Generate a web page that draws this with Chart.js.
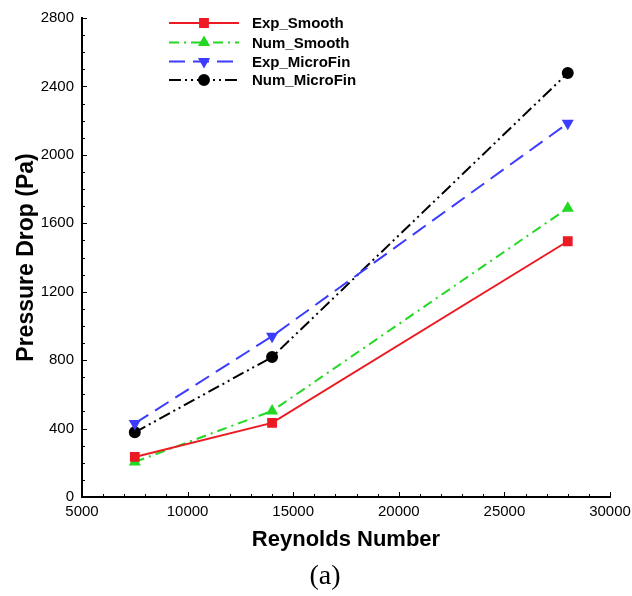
<!DOCTYPE html>
<html>
<head>
  <meta charset="UTF-8">
  <title>Pressure Drop vs Reynolds Number</title>
  <script src="https://cdn.jsdelivr.net/npm/chart.js"></script>
  <style>
    html, body { margin: 0; padding: 0; background: #fff; }
    #wrap { width: 632px; height: 596px; }
  </style>
</head>
<body>
  <div id="wrap"><canvas id="pdChart" width="632" height="596"></canvas></div>

  <script>
    // values
    const reynolds = [7500, 14000, 28000];
    const expSmooth = [234, 433, 1495];
    const numSmooth = [205, 503, 1688];
    const expMicroFin = [430, 940, 2185];
    const numMicroFin = [378, 818, 2478];

    const xTicks = [5000, 10000, 15000, 20000, 25000, 30000];
    const yTicks = [0, 400, 800, 1200, 1600, 2000, 2400, 2800];
    const panelLabel = '(a)';

    const toPoints = vals => reynolds.map((r, i) => ({ x: r, y: vals[i] }));

    // legend drawn inside the plot, line sample + marker + text
    const insideLegend = {
      id: 'insideLegend',
      afterDraw(chart) {
        const ctx = chart.ctx;
        const x0 = 169, x1 = 239, tx = 252;
        const rows = [23, 42.5, 61.5, 80];
        chart.data.datasets.forEach((ds, i) => {
          const y = rows[i];
          ctx.save();
          ctx.strokeStyle = ds.borderColor;
          ctx.lineWidth = ds.borderWidth;
          ctx.setLineDash(ds.borderDash || []);
          ctx.beginPath();
          ctx.moveTo(x0, y);
          ctx.lineTo(x1, y);
          ctx.stroke();
          ctx.setLineDash([]);
          ctx.fillStyle = ds.backgroundColor;
          ctx.strokeStyle = ds.borderColor;
          Chart.helpers.drawPoint(ctx, {
            pointStyle: ds.pointStyle,
            radius: ds.pointRadius,
            rotation: ds.pointRotation || 0,
            borderWidth: 1
          }, (x0 + x1) / 2, y);
          ctx.fillStyle = '#000';
          ctx.font = 'bold 15px "Liberation Sans", Arial, sans-serif';
          ctx.textBaseline = 'middle';
          ctx.fillText(ds.label, tx, y + 1);
          ctx.restore();
        });
        // panel label under the axis title
        ctx.save();
        ctx.fillStyle = '#000';
        ctx.font = '28px "Liberation Serif", "Times New Roman", serif';
        ctx.textAlign = 'center';
        ctx.textBaseline = 'middle';
        ctx.fillText(panelLabel, 325, 577);
        ctx.restore();
      }
    };

    // small inward tick marks on both axes
    const innerTicks = {
      id: 'innerTicks',
      afterDraw(chart) {
        const ctx = chart.ctx;
        const xs = chart.scales.x, ys = chart.scales.y;
        const area = chart.chartArea;
        ctx.save();
        ctx.strokeStyle = '#000';
        ctx.lineWidth = 1;
        ctx.beginPath();
        for (let v = 0; v <= 2800; v += 100) {
          const p = Math.round(ys.getPixelForValue(v)) + 0.5;
          const len = v % 400 === 0 ? 5 : 3;
          ctx.moveTo(area.left, p);
          ctx.lineTo(area.left + len, p);
        }
        for (let v = 5000; v <= 30000; v += 1000) {
          const p = Math.round(xs.getPixelForValue(v)) + 0.5;
          const len = v % 5000 === 0 ? 5 : 3;
          ctx.moveTo(p, area.bottom);
          ctx.lineTo(p, area.bottom - len);
        }
        ctx.stroke();
        ctx.restore();
      }
    };

    const tickFont = { family: '"Liberation Sans", Arial, sans-serif', size: 15 };
    const titleFont = { family: '"Liberation Sans", Arial, sans-serif', size: 22, weight: 'bold' };

    new Chart(document.getElementById('pdChart').getContext('2d'), {
      type: 'line',
      data: {
        datasets: [
          {
            label: 'Exp_Smooth',
            data: toPoints(expSmooth),
            borderColor: '#ec1a22',
            backgroundColor: '#ec1a22',
            borderWidth: 2,
            pointStyle: 'rect',
            pointRadius: 5.5
          },
          {
            label: 'Num_Smooth',
            data: toPoints(numSmooth),
            borderColor: '#22d822',
            backgroundColor: '#22d822',
            borderWidth: 2,
            borderDash: [10, 5, 2, 5],
            pointStyle: 'triangle',
            pointRadius: 5
          },
          {
            label: 'Exp_MicroFin',
            data: toPoints(expMicroFin),
            borderColor: '#3c3cff',
            backgroundColor: '#3c3cff',
            borderWidth: 2,
            borderDash: [16, 8],
            pointStyle: 'triangle',
            pointRotation: 180,
            pointRadius: 5
          },
          {
            label: 'Num_MicroFin',
            data: toPoints(numMicroFin),
            borderColor: '#000',
            backgroundColor: '#000',
            borderWidth: 2,
            borderDash: [12, 4, 2, 4, 2, 4],
            pointStyle: 'circle',
            pointRadius: 5
          }
        ]
      },
      options: {
        responsive: false,
        animation: false,
        layout: { padding: { top: 18, right: 22, left: 0, bottom: 35 } },
        plugins: {
          legend: { display: false },
          tooltip: { enabled: false }
        },
        scales: {
          x: {
            type: 'linear',
            min: 5000,
            max: 30000,
            afterBuildTicks: s => { s.ticks = xTicks.map(v => ({ value: v })); },
            afterFit: s => { s.height = 64; s.paddingRight = 0; },
            grid: { display: false, drawTicks: false },
            border: { display: true, color: '#000', width: 2 },
            ticks: { color: '#000', font: tickFont, padding: 6, maxRotation: 0, callback: v => String(v) },
            title: { display: true, text: 'Reynolds Number', color: '#000', font: titleFont, padding: { top: 0, bottom: 8 } }
          },
          y: {
            min: 0,
            max: 2800,
            afterBuildTicks: s => { s.ticks = yTicks.map(v => ({ value: v })); },
            afterFit: s => { s.width = 82; },
            grid: { display: false, drawTicks: false },
            border: { display: true, color: '#000', width: 2 },
            ticks: { color: '#000', font: tickFont, padding: 8, callback: v => String(v) },
            title: { display: true, text: 'Pressure Drop (Pa)', color: '#000', font: { ...titleFont, size: 23 }, padding: { top: 13, bottom: 0 } }
          }
        }
      },
      plugins: [insideLegend, innerTicks]
    });
  </script>
</body>
</html>
